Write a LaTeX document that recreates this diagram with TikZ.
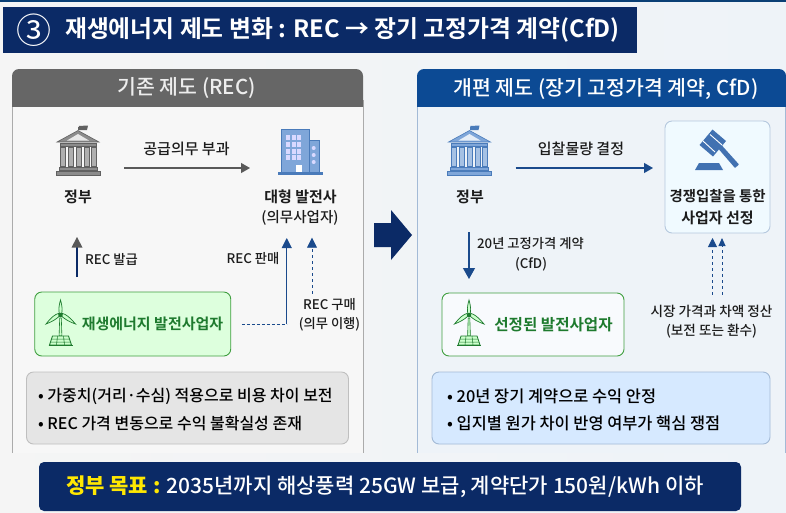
\documentclass[tikz,border=0pt]{standalone}
\usepackage{fontspec}
\setmainfont{Noto Sans CJK KR}[BoldFont={Noto Sans CJK KR Bold}]
\newfontfamily\medf{Noto Sans CJK KR Medium}
\usetikzlibrary{arrows.meta,calc}
\definecolor{navy}{HTML}{0B2A66}
\definecolor{deepblue}{HTML}{0C4A94}
\definecolor{midblue}{HTML}{1A4A8C}
\definecolor{ink}{HTML}{1C1C1C}
\definecolor{grn}{HTML}{1E7A2E}
\definecolor{panelR}{HTML}{EEF3F8}
\definecolor{edgeR}{HTML}{A3BAD6}
\definecolor{iconblue}{HTML}{7FA6D9}
\definecolor{iconedge}{HTML}{4A7BBA}
\tikzset{
 x=1pt,y=-1pt,
 lbl/.style={inner sep=0pt,text=ink,font=\medf\fontsize{13.3}{15}\selectfont,align=center},
 lblw/.style={inner sep=0pt,text=ink,font=\medf\fontsize{13.6}{15}\selectfont,align=center},
 nm/.style={inner sep=0pt,text=ink,font=\bfseries\fontsize{15}{17}\selectfont,align=center},
 flow/.style={inner sep=0pt,text=ink,font=\medf\fontsize{15}{17}\selectfont},
 bul/.style={inner sep=0pt,text=black,anchor=west,font=\medf\fontsize{16}{18}\selectfont},
 bulr/.style={bul,font=\medf\fontsize{16.4}{18}\selectfont},
 hdr/.style={inner sep=0pt,text=white,font=\medf\fontsize{20.5}{23}\selectfont},
 ghost/.style={inner sep=0pt,outer sep=0pt,minimum width=#1},
 box/.style={rounded corners=7pt,line width=0.9pt,inner sep=0pt,outer sep=0pt},
}
\newcommand{\templeicon}[3]{% x, fill, dark
\begin{scope}[shift={(#1,0)}]
 \fill[#3] (0,127) rectangle (0.8,130);
 \fill[#3] (0.8,126) -- (10,125.5) -- (9,130) -- (0.8,130) -- cycle;
 \fill[#2,draw=#3,line width=.6pt] (0,130.5) -- (21,142) -- (-21,142) -- cycle;
 \fill[white!80!#2] (0,134) -- (11,140.5) -- (-11,140.5) -- cycle;
 \fill[#2,draw=#3,line width=.5pt] (-18,143) rectangle (18,146.5);
 \foreach \c in {-15.5,-7.5,0.5,8.5,15.5}{\fill[white!30!#2,draw=#3,line width=.5pt] (\c-2.4,147) rectangle (\c+2.4,166.5);}
 \fill[#2,draw=#3,line width=.5pt] (-19,167) rectangle (19,170.5);
 \fill[#2,draw=#3,line width=.5pt] (-22,171) rectangle (22,175);
\end{scope}}
\newcommand{\turbineicon}[1]{% x of mast
\begin{scope}[shift={(#1,0)}]
 \fill[white!80!green,draw=grn,line width=.6pt] (-1.4,336) -- (-.8,318) -- (.8,318) -- (1.4,336) -- cycle;
 \fill[white!80!green,draw=grn,line width=.7pt] (0,300) .. controls (-2,307) and (-2,311) .. (-1,314) -- (1,314) .. controls (2,311) and (2,307) .. (0,300) -- cycle;
 \fill[white!80!green,draw=grn,line width=.7pt] (-14.5,324) .. controls (-9,317) and (-5,314) .. (-2,313.5) -- (-1,316) .. controls (-4,319) and (-9,322) .. (-14.5,324) -- cycle;
 \fill[white!80!green,draw=grn,line width=.7pt] (15,324) .. controls (9,317) and (5,314) .. (2,313.5) -- (1,316) .. controls (4,319) and (9,322) .. (15,324) -- cycle;
 \fill[grn] (0,315) circle (2.2pt);
 \draw[grn,line width=.8pt,fill=white!80!green] (-8,336) -- (8,336) -- (11,345) -- (-11,345) -- cycle;
 \draw[grn,line width=.5pt] (-9,339) -- (9,339) (-10,342) -- (10,342) (-3,336) -- (-4,345) (3,336) -- (4,345);
 \draw[grn,line width=.9pt] (-12,345.5) -- (12,345.5);
\end{scope}}
\begin{document}
\begin{tikzpicture}
\useasboundingbox (0,0) rectangle (786,512);
\shade[left color=white!96!black,right color=panelR] (0,0) rectangle (786,512);
\fill[navy!90!cyan] (0,0) rectangle (786,2);
% title
\node[fill=navy,minimum width=634pt,minimum height=46pt,inner sep=0pt,anchor=north west] (title) at (3,7) {};
\node[inner sep=0pt,text=white,font=\fontsize{35}{37}\selectfont] (num) at (34,30) {③};
\node[inner sep=0pt,text=white,anchor=west,font=\bfseries\fontsize{23.8}{26}\selectfont] (ttxt) at (65,30) {재생에너지 제도 변화 : REC → 장기 고정가격 계약(CfD)};
% left panel
\fill[white!97!black] (12,100) rectangle (363,453);
\draw[black!33,line width=.8pt] (12.5,100) -- (12.5,453) (363.5,100) -- (363.5,453);
\fill[black!60,rounded corners=7pt] (12,69) rectangle (363,115);
\fill[white!97!black] (12,107) rectangle (363,117);
\draw[black!33,line width=.8pt] (12.5,107) -- (12.5,118) (363.5,107) -- (363.5,118);
\node[hdr,text=white!93!black] (hl) at (186.5,88.5) {기존 제도 (REC)};
% right panel
\fill[panelR] (417,100) rectangle (785,453);
\draw[edgeR,line width=.8pt] (417.5,100) -- (417.5,453) (785.5,100) -- (785.5,453);
\fill[deepblue,rounded corners=7pt] (417,69) rectangle (786,115);
\fill[panelR] (417,107) rectangle (785,117);
\draw[edgeR,line width=.8pt] (417.5,107) -- (417.5,118) (785.5,107) -- (785.5,118);
\node[hdr] (hr) at (606,89) {개편 제도 (장기 고정가격 계약, CfD)};
% left icons
\templeicon{78}{black!45}{black!62}
\node[ghost=44pt,minimum height=50pt] (govL) at (78,150) {};
\node[nm] (govLt) at (78,197) {정부};
% building
\draw[iconedge,fill=iconblue,line width=.9pt] (281.5,129.5) rectangle (309,172);
\draw[iconedge,fill=iconblue,line width=.9pt] (309,140.5) rectangle (319.5,172);
\foreach \r in {137,144,151,157}{\foreach \c in {288,293.5,299}{\fill[white!85!blue] (\c-1.6,\r-2.5) rectangle (\c+2.2,\r+2.5);}}
\foreach \r in {148,155,162}{\fill[white!85!blue] (313.7,\r) circle (2pt);}
\fill[white] (296,165) rectangle (302,172);
\fill[iconedge] (278,172) rectangle (323,175);
\node[ghost=45pt,minimum height=46pt] (bigL) at (300.5,152) {};
\node[nm] (bigLt) at (300.5,197) {대형 발전사};
\node[nm,font=\medf\fontsize{14.5}{17}\selectfont] (bigLs) at (300,218) {(의무사업자)};
% left green box
\node[box,draw=green!50!black!75!white,fill=green!30!white!45!white,minimum width=196pt,minimum height=64pt] (genL) at (132.75,324) {};
\turbineicon{60.5}
\node[inner sep=0pt,text=grn,font=\bfseries\fontsize{15}{18}\selectfont] (genLt) at (152.5,324) {재생에너지 발전사업자};
% left grey box
\node[box,draw=black!25,fill=black!10,minimum width=322pt,minimum height=72pt] (noteL) at (187.5,408) {};
\node[bul] (nl1) at (38,396) {• 가중치(거리·수심) 적용으로 비용 차이 보전};
\node[bul] (nl2) at (38,423) {• REC 가격 변동으로 수익 불확실성 존재};
% left labels
\node[flow] (a1) at (186.5,149) {공급의무 부과};
\node[lbl,anchor=west] (a2) at (85,259) {REC 발급};
\node[lbl] (a3) at (253,259) {REC 판매};
\node[lbl] (a4) at (329.5,305) {REC 구매};
\node[lbl] (a5) at (329.5,324.5) {(의무 이행)};
% left connectors
\draw[black!65,line width=1.2pt,shorten <=24pt,shorten >=28pt,-{Triangle[length=9pt,width=10pt]}] ([yshift=-18pt]govL.east) -- ([yshift=-16pt]bigL.west);
\draw[navy,line width=1.3pt] (genL.north -| govL.south) ++(-1,-15) -- ++(0,-30);
\fill[black!65] (77,237) -- (82.5,247.5) -- (71.5,247.5) -- cycle;
\draw[midblue,line width=.8pt,densely dashed] ([xshift=11pt]genL.east) -- ++(45,0) coordinate (cornerL);
\draw[midblue,line width=1pt,-{Triangle[length=10pt,width=10pt]}] (cornerL) -- ++(0,-86);
\coordinate (buyfoot) at (a4.north);
\draw[midblue,line width=.8pt,dashed,-{Triangle[length=10pt,width=10pt]}] ($(buyfoot)+(-17.5,-5)$) -- ++(0,-56);
% big arrow
\fill[navy] (374,223) -- (391,223) -- (391,210) -- (412,235) -- (391,260) -- (391,247) -- (374,247) -- cycle;
% right icons
\templeicon{469.5}{iconblue}{iconedge}
\node[ghost=44pt,minimum height=50pt] (govR) at (469.5,150) {};
\node[nm] (govRt) at (470,197) {정부};
\node[box,draw=edgeR!80!white,fill=blue!30!cyan!6!white,minimum width=105pt,minimum height=112pt] (auct) at (717.5,177) {};
% gavel
\fill[iconedge!80!midblue,rounded corners=.5pt] (717.3,147.5) -- (721,144.5) -- (739,164.5) -- (735,168) -- cycle;
\fill[iconedge!80!midblue] (712.5,129.5) -- (726,141) -- (713,156.5) -- (699.5,145) -- cycle;
\draw[white,line width=.9pt] (710,134.5) -- (722,145) (703,141) -- (715,152);
\fill[iconedge!80!midblue] (699,163) -- (719,163) -- (723,170) -- (695,170) -- cycle;
\node[nm,font=\bfseries\fontsize{14.4}{17}\selectfont] (au1) at (717.5,196) {경쟁입찰을 통한};
\node[nm] (au2) at (717.5,218) {사업자 선정};
% right green
\node[box,draw=green!50!black!75!white,fill=green!30!white!50!blue!4!white,minimum width=182pt,minimum height=63pt] (genR) at (533,324.5) {};
\turbineicon{469}
\node[inner sep=0pt,text=grn,font=\bfseries\fontsize{15.6}{18}\selectfont] (genRt) at (553.5,325) {선정된 발전사업자};
% right blue box
\node[box,draw=edgeR,fill=blue!55!cyan!16!white,minimum width=338pt,minimum height=72pt] (noteR) at (601,408) {};
\node[bulr] (nr1) at (447,396) {• 20년 장기 계약으로 수익 안정};
\node[bulr] (nr2) at (447,423) {• 입지별 원가 차이 반영 여부가 핵심 쟁점};
% right labels
\node[flow] (b1) at (581,149) {입찰물량 결정};
\node[lbl] (b2) at (530.5,244) {20년 고정가격 계약};
\node[lbl] (b3) at (531,264) {(CfD)};
\node[lblw] (b4) at (711.5,311) {시장 가격과 차액 정산};
\node[lblw] (b5) at (711.5,331) {(보전 또는 환수)};
% right connectors
\draw[midblue,line width=1.2pt,shorten <=24pt,shorten >=12pt,-{Triangle[length=9pt,width=10pt]}] ([yshift=-18pt]govR.east) -- ([yshift=9pt]auct.west);
\draw[midblue,line width=1.2pt,-{Triangle[length=11pt,width=12pt]}] ([yshift=-28pt,xshift=-1pt]govRt.south) -- ([yshift=14pt,xshift=-64pt]genR.north);
\draw[midblue,line width=.9pt,dashed,-{Triangle[length=9pt,width=9pt]}] ([xshift=1pt,yshift=10pt]b4.north) -- ([xshift=-5pt,yshift=-5pt]auct.south);
\draw[midblue,line width=.9pt,dashed,-{Triangle[length=8pt,width=7pt]}] ([xshift=10.5pt,yshift=10pt]b4.north) -- ([xshift=4.5pt,yshift=-5pt]auct.south);
% bottom
\node[fill=navy,rounded corners=5pt,minimum width=702pt,minimum height=49pt,inner sep=0pt] (goal) at (390,486.5) {};
\node[inner sep=0pt,anchor=west,font=\medf\fontsize{21}{24}\selectfont,text=white] (goalt) at (66,487) {{\bfseries\color{yellow!90!orange}정부 목표 :} 2035년까지 해상풍력 25GW 보급, 계약단가 150원/kWh 이하};
\end{tikzpicture}
\end{document}
